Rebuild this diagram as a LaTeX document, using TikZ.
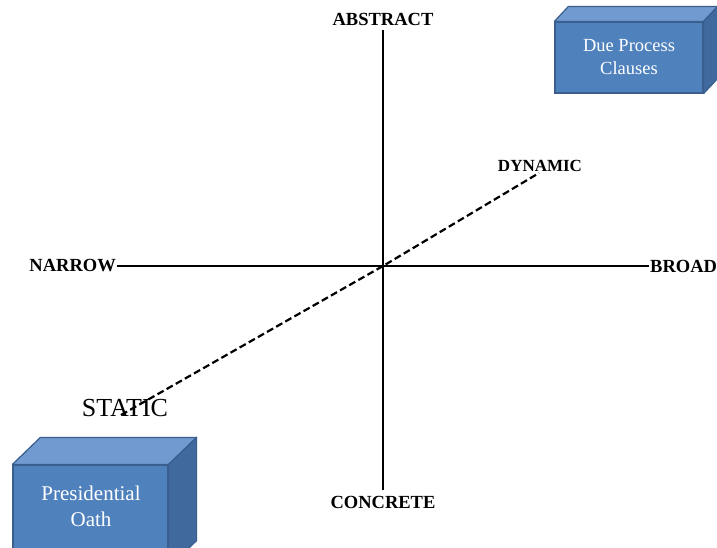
\documentclass[tikz,border=0pt]{standalone}
\usepackage{fontspec}
\setmainfont{Liberation Serif}
\begin{document}
\begin{tikzpicture}[x=1pt,y=-1pt,
  axislabel/.style={font=\fontsize{18.5}{20}\selectfont\bfseries, inner sep=1pt},
  axisline/.style={line width=2.2pt, black},
  dashline/.style={line width=2.2pt, dash pattern=on 7pt off 3.5pt},
  front/.style={draw=boxedge, fill=boxfront, line width=1.2pt, inner sep=0pt},
  topface/.style={draw=boxedge, fill=boxtop, line width=1.2pt, line join=round},
  sideface/.style={draw=boxedge, fill=boxside, line width=1.2pt, line join=round},
  boxtext/.style={text=white, align=center}]
\definecolor{boxfront}{HTML}{4F81BD}
\definecolor{boxtop}{HTML}{719BD0}
\definecolor{boxside}{HTML}{40699E}
\definecolor{boxedge}{HTML}{3A5F8E}
\useasboundingbox (0,0) rectangle (717,547);
\fill[white] (0,0) rectangle (717,547);

% axis labels
\node[axislabel] (abstract) at (383,19) {ABSTRACT};
\node[axislabel] (concrete) at (383,502) {CONCRETE};
\node[axislabel, anchor=east] (narrow) at (117,266) {NARROW};
\node[axislabel, anchor=west] (broad) at (649,266) {BROAD};
\node[axislabel, font=\fontsize{17}{19}\selectfont\bfseries] (dynamic) at (540,166) {DYNAMIC};
\node[font=\fontsize{26}{28}\selectfont, inner sep=0pt] (static) at (125,408) {STATIC};

\coordinate (origin) at (383,266);
\coordinate (dynend) at (539,173);
\coordinate (statend) at (121,415);

% axes
\draw[axisline] (abstract.south |- 0,30) -- (concrete.north |- 0,490);
\draw[axisline] (narrow.east) -- (broad.west);
\draw[dashline] (statend) -- (origin) -- (dynend);

% Due Process Clauses box
\node[front, minimum width=148pt, minimum height=71pt] (dpfront) at (629,57.5) {};
\draw[topface] (dpfront.north west) -- ++(14,-15) -- ([shift={(14,-15)}]dpfront.north east) -- (dpfront.north east) -- cycle;
\draw[sideface] (dpfront.north east) -- ++(14,-15) -- ([shift={(14,-15)}]dpfront.south east) -- (dpfront.south east) -- cycle;
\node[boxtext, font=\fontsize{18.5}{23}\selectfont] (dptext) at (dpfront.center) {Due Process\\Clauses};

% Presidential Oath box
\node[front, minimum width=155pt, minimum height=102pt] (pofront) at (90.5,516) {};
\draw[topface] (pofront.north west) -- ++(28,-27) -- ([shift={(28,-27)}]pofront.north east) -- (pofront.north east) -- cycle;
\draw[sideface] (pofront.north east) -- ++(28,-27) -- ([shift={(28,-27)}]pofront.south east) -- (pofront.south east) -- cycle;
\node[boxtext, font=\fontsize{21}{26}\selectfont] (potext) at (91,506) {Presidential\\Oath};
\end{tikzpicture}
\end{document}
